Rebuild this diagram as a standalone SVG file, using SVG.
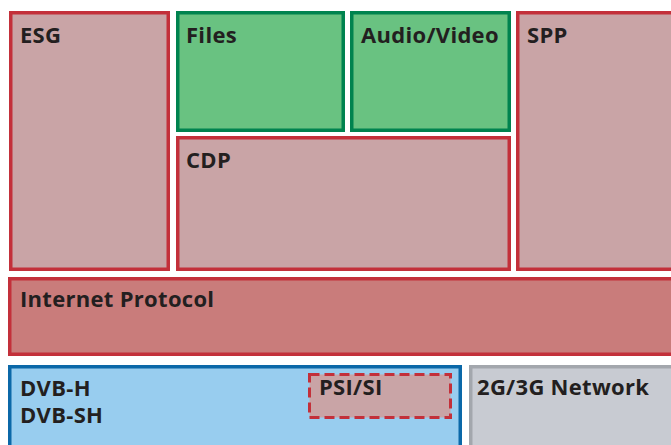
<svg xmlns="http://www.w3.org/2000/svg" width="671" height="445" viewBox="0 0 671 445">
<style>
rect{stroke-width:3.5}
.pink{fill:#c9a4a6;stroke:#c3303a}
.green{fill:#69c281;stroke:#00834f}
.ip{fill:#c97c7b;stroke:#c3303a}
.blue{fill:#98cdef;stroke:#0b68a8}
.gray{fill:#c8cbd2;stroke:#a3a7ad}
.dash{fill:#c9a4a6;stroke:#c3303a;stroke-dasharray:10 5}
text{font-family:"Open Sans","Noto Sans",sans-serif;font-weight:bold;font-size:22px;fill:#231f20;letter-spacing:0.3px}
</style>
<rect width="671" height="445" fill="#ffffff" stroke="none"/>
<g id="esg"><rect class="pink" x="10.75" y="12.75" width="157.5" height="256.5"/><text x="20" y="43">ESG</text></g>
<g id="files"><rect class="green" x="177.75" y="12.75" width="165.5" height="117.5"/><text x="186" y="43">Files</text></g>
<g id="audiovideo"><rect class="green" x="351.75" y="12.75" width="157.5" height="117.5"/><text x="361" y="43">Audio/Video</text></g>
<g id="spp"><rect class="pink" x="517.75" y="12.75" width="200" height="256.5"/><text x="527" y="43">SPP</text></g>
<g id="cdp"><rect class="pink" x="177.75" y="137.75" width="331.5" height="131.5"/><text x="186" y="168">CDP</text></g>
<g id="ip"><rect class="ip" x="9.75" y="278.75" width="700" height="75.5"/><text x="20" y="307">Internet Protocol</text></g>
<g id="dvb"><rect class="blue" x="9.75" y="366.75" width="450.5" height="100"/><text x="20" y="396">DVB-H</text><text x="20" y="423">DVB-SH</text></g>
<g id="psisi"><rect class="dash" x="309.5" y="374.5" width="141" height="43" style="stroke-width:3"/><text x="319" y="395">PSI/SI</text></g>
<g id="network"><rect class="gray" x="470.75" y="366.75" width="240" height="100"/><text x="477" y="395">2G/3G Network</text></g>
<g id="connectors"></g>
</svg>
